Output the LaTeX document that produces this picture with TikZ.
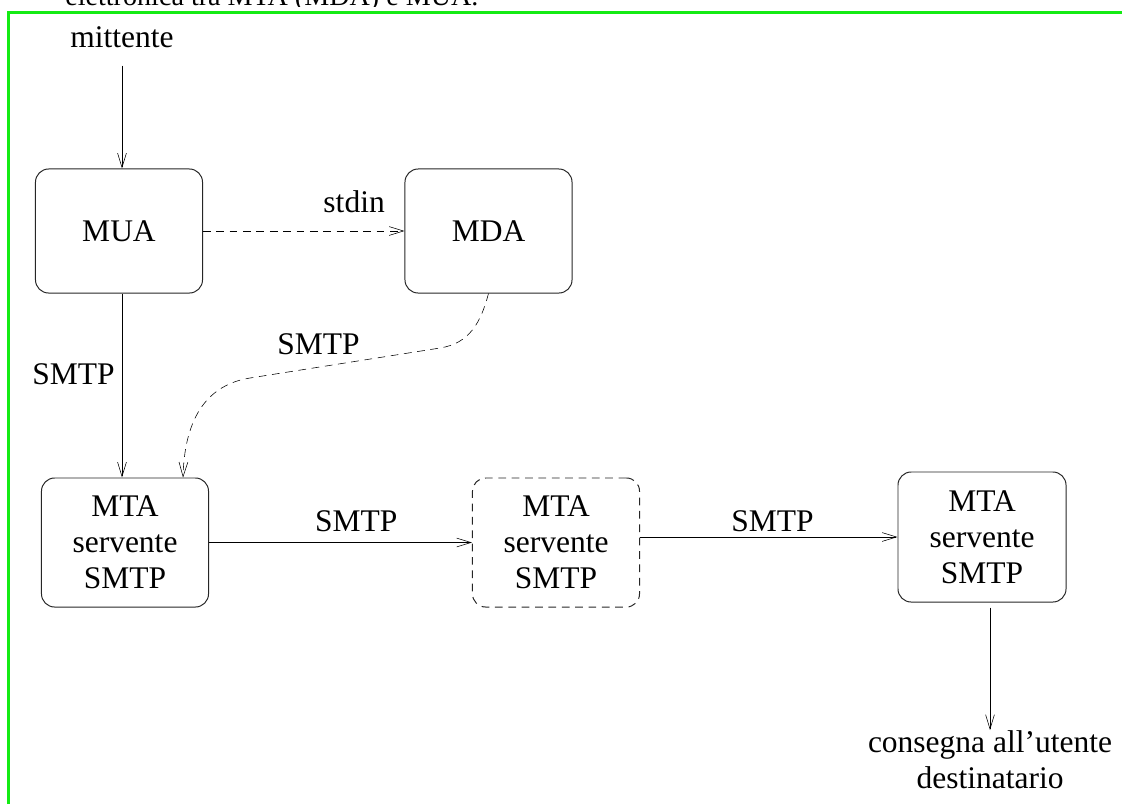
\documentclass[tikz,border=0pt]{standalone}
\usepackage{fontspec}
\setmainfont{Liberation Serif}
\usetikzlibrary{arrows.meta}
\definecolor{cornice}{RGB}{20,235,20}

\begin{document}
\begin{tikzpicture}[x=0.025cm, y=0.025cm,
    >={Straight Barb[length=3.6mm,width=2.2mm]},
    font=\fontsize{22.4}{25.6}\selectfont,
    box/.style={draw=black!85, line width=0.7pt, rounded corners=0.33cm,
        minimum width=4.175cm, minimum height=3.1cm, align=center, inner sep=0pt},
    lbl/.style={inner sep=0pt},
    tratt/.style={dash pattern=on 5.5pt off 4pt}]
    \useasboundingbox (0,0) rectangle (1122,-804);

    % 1. Cornice e riga tagliata in alto
    \draw[cornice, line width=1.8pt] (8.5,-804) -- (8.5,-12.5) -- (1122,-12.5);
    \begin{scope}
        \clip (0,0) rectangle (1122,-6.5);
        \node[lbl, anchor=base west, font=\fontsize{20}{24}\selectfont] (didasc) at (65,-5.5)
            {elettronica tra MTA (MDA) e MUA.};
    \end{scope}

    % 2. Nodi
    \node[lbl, anchor=base] (mit) at (122,-47) {mittente};
    \node[box] (mua) at (119,-231) {MUA};
    \node[box] (mda) at (488.5,-231) {MDA};
    \node[box, minimum height=3.225cm] (mta1) at (125,-542.5) {MTA\\servente\\SMTP};
    \node[box, tratt, minimum height=3.225cm] (mta2) at (556,-542.5) {MTA\\servente\\SMTP};
    \node[box, minimum width=4.2cm, minimum height=3.25cm] (mta3) at (982,-537) {MTA\\servente\\SMTP};
    \node[lbl, anchor=north, align=center] (dest) at (990,-730) {consegna all'utente\\destinatario};

    % 3. Collegamenti
    \draw[->] ([yshift=-0.45cm]mit.south) -- (mit.south |- mua.north);
    \draw[->] (mit.south |- mua.south) -- node[lbl, pos=.44, left=0.175cm] (l1) {SMTP} (mit.south |- mta1.north);
    \draw[->, tratt] (mua.east) -- node[lbl, pos=.75, above=0.45cm] (l2) {stdin} (mda.west);
    \draw[->, tratt] (mda.south) .. controls +(-105:30) and +(9:30) .. (440,-348)
        -- node[lbl, pos=.64, above=0.31cm] (l3) {SMTP} (250,-378)
        .. controls +(189:35) and +(88.5:70) .. ([xshift=1.45cm]mta1.north);
    \draw[->] (mta1.east) -- node[lbl, pos=.56, above=0.26cm] (l4) {SMTP} (mta2.west);
    \draw[->] (mta2.east |- mta3.west) -- node[lbl, pos=.515, above=0.12cm] (l5) {SMTP} (mta3.west);
    \draw[->, shorten <=0.125cm] (mta3.south -| dest.north) -- (dest.north);
\end{tikzpicture}
\end{document}
